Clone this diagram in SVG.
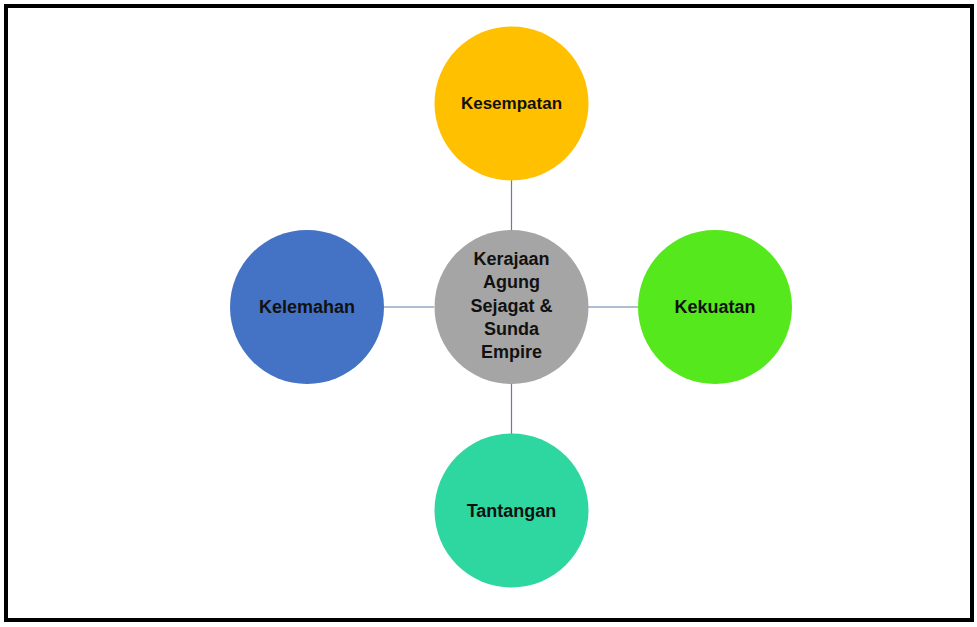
<svg xmlns="http://www.w3.org/2000/svg" width="977" height="627" viewBox="0 0 977 627">
<style>
.lbl{font-family:"Liberation Sans",Arial,sans-serif;font-weight:bold;font-size:18px;fill:#111;text-anchor:middle;dominant-baseline:central}
.conn{stroke:#5B80A8;stroke-width:1.2;fill:none}
</style>
<rect x="0" y="0" width="977" height="627" fill="#fff"/>
<rect x="6" y="6" width="966" height="614" fill="none" stroke="#000" stroke-width="4"/>
<g id="connectors">
<line class="conn" x1="511.5" y1="180" x2="511.5" y2="230"/>
<line class="conn" x1="511.5" y1="384" x2="511.5" y2="434"/>
<line class="conn" x1="384" y1="307" x2="434" y2="307"/>
<line class="conn" x1="588" y1="307" x2="638" y2="307"/>
</g>
<g id="center">
<circle cx="511.5" cy="307" r="77" fill="#A5A5A5"/>
<text class="lbl" x="511.5" y="259">Kerajaan</text>
<text class="lbl" x="511.5" y="282">Agung</text>
<text class="lbl" x="511.5" y="306">Sejagat &amp;</text>
<text class="lbl" x="511.5" y="329">Sunda</text>
<text class="lbl" x="511.5" y="352">Empire</text>
</g>
<g id="kesempatan">
<circle cx="511.5" cy="103.5" r="77" fill="#FFC000"/>
<text class="lbl" x="511.5" y="103.5" style="font-size:17px">Kesempatan</text>
</g>
<g id="kekuatan">
<circle cx="715" cy="307" r="77" fill="#55E81C"/>
<text class="lbl" x="715" y="307">Kekuatan</text>
</g>
<g id="tantangan">
<circle cx="511.5" cy="510.5" r="77" fill="#2ED6A0"/>
<text class="lbl" x="511.5" y="510.5">Tantangan</text>
</g>
<g id="kelemahan">
<circle cx="307" cy="307" r="77" fill="#4472C4"/>
<text class="lbl" x="307" y="307">Kelemahan</text>
</g>
</svg>
